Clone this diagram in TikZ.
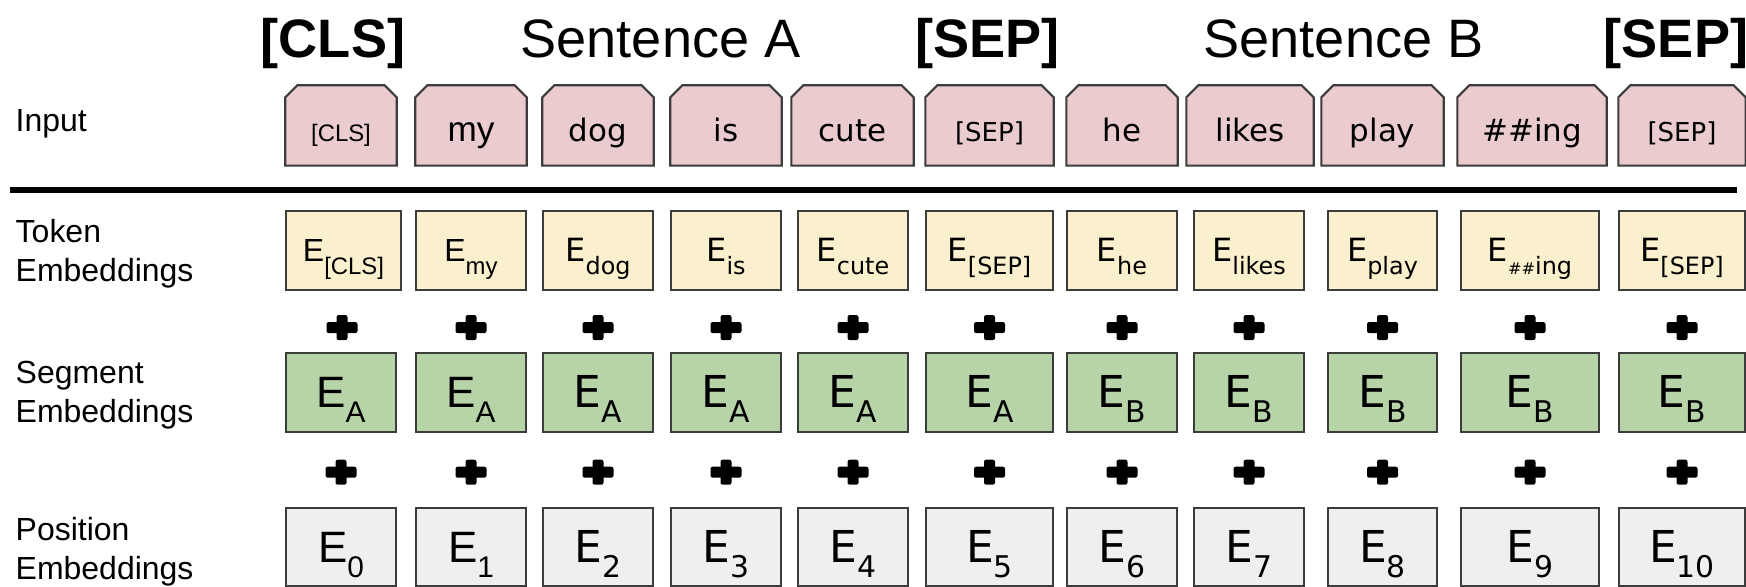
\documentclass[tikz,border=0pt]{standalone}
\usepackage{fontspec}
\setmainfont{Liberation Sans}
\newfontfamily\dejavu{DejaVu Sans}
\usetikzlibrary{calc,backgrounds}

\definecolor{inpink}{RGB}{234,203,206}
\definecolor{tokyellow}{RGB}{250,240,205}
\definecolor{seggreen}{RGB}{183,211,168}
\definecolor{posgray}{RGB}{239,239,239}
\definecolor{edgegray}{RGB}{60,60,60}

% lowered subscripts for the token row and the two lower rows
\newcommand\tsub[1]{\raisebox{-0.13cm}{\fontsize{6.8}{8}\selectfont #1}}
\newcommand\ssub[1]{\raisebox{-0.15cm}{\fontsize{8.5}{10}\selectfont #1}}

\tikzset{
  emb/.style={rectangle, draw=edgegray, line width=0.6pt, inner sep=0pt},
  inbox/.style={inner sep=0pt, minimum height=0.79cm, text height=0.41cm, text depth=0.08cm,
    font=\dejavu\fontsize{8.8}{10}\selectfont},
  tokbox/.style={emb, fill=tokyellow, minimum height=0.79cm, text height=0.32cm, text depth=0.096cm,
    font=\fontsize{9.1}{11}\selectfont},
  segbox/.style={emb, fill=seggreen, minimum height=0.79cm, text height=0.4cm, text depth=0.09cm,
    font=\fontsize{12.5}{15}\selectfont},
  posbox/.style={emb, fill=posgray, minimum height=0.78cm, text height=0.4cm, text depth=0.09cm,
    font=\fontsize{12.5}{15}\selectfont},
  % base of a two-line label is its last line
  rowlabel/.style={anchor=base west, align=left, inner sep=0pt, font=\fontsize{9.1}{11.1}\selectfont},
  headline/.style={anchor=base, inner sep=0pt, font=\fontsize{15.4}{18}\selectfont},
  plussign/.pic={
    \fill[rounded corners=0.6pt] (-0.155,-0.055) rectangle (0.155,0.055);
    \fill[rounded corners=0.6pt] (-0.055,-0.125) rectangle (0.055,0.125);
  }
}

\begin{document}
\begin{tikzpicture}
  \useasboundingbox (0,0) rectangle (17.46,-5.87);

  % headings over the sequence
  \node[headline, font=\fontsize{15.4}{18}\selectfont\bfseries] (hcls) at (3.33,-0.58) {[CLS]};
  \node[headline] (hsa) at (6.605,-0.58) {Sentence A};
  \node[headline, font=\fontsize{15.4}{18}\selectfont\bfseries] (hsep) at (9.875,-0.58) {[SEP]};
  \node[headline] (hsb) at (13.435,-0.58) {Sentence B};
  \node[headline, font=\fontsize{15.4}{18}\selectfont\bfseries] (hsepb) at (16.76,-0.58) {[SEP]};

  % row labels
  \node[rowlabel] (lin) at (0.15,-1.32) {Input};
  \node[rowlabel] (ltok) at (0.15,-2.817) {Token\\Embeddings};
  \node[rowlabel] (lseg) at (0.15,-4.23) {Segment\\Embeddings};
  \node[rowlabel] (lpos) at (0.15,-5.80) {Position\\Embeddings};

  % input tokens
  \foreach \x/\w/\txt [count=\i from 0] in {
      3.41/1.10/{\rmfamily\fontsize{6.8}{8}\selectfont [CLS]},
      4.71/1.10/{\rmfamily\fontsize{10}{12}\selectfont my},
      5.98/1.10/dog, 7.26/1.10/is, 8.525/1.21/cute,
      9.895/1.27/{\fontsize{7.4}{9}\selectfont [SEP]},
      11.22/1.10/he, 12.50/1.26/likes, 13.825/1.21/play, 15.32/1.48/\#\#ing,
      16.82/1.26/{\fontsize{7.4}{9}\selectfont [SEP]}}
    \node[inbox, minimum width=\w cm] (in\i) at (\x,-1.255) {\txt};

  \begin{scope}[on background layer]
    \fill[white] (0,0) rectangle (17.46,-5.87);
    \foreach \i in {0,...,10}
      \filldraw[fill=inpink, draw=edgegray, line width=0.6pt]
        (in\i.south west) -- ([yshift=-0.12cm]in\i.north west) -- ([xshift=0.12cm]in\i.north west)
        -- ([xshift=-0.12cm]in\i.north east) -- ([yshift=-0.12cm]in\i.north east)
        -- (in\i.south east) -- cycle;
  \end{scope}

  \draw[line width=1.7pt] (0.10,-1.90) -- (17.37,-1.90);

  % token embeddings
  \foreach \x/\w/\fnt/\txt [count=\i from 0] in {
      3.435/1.15/\rmfamily/[CLS], 4.71/1.10/\rmfamily/my,
      5.98/1.10/\dejavu/dog, 7.26/1.10/\dejavu/is, 8.53/1.10/\dejavu/cute,
      9.895/1.27/\dejavu/[SEP], 11.22/1.10/\dejavu/he, 12.49/1.10/\dejavu/likes,
      13.825/1.09/\dejavu/play,
      15.30/1.38/\dejavu/{{\fontsize{4.6}{5}\selectfont\#\#}ing},
      16.82/1.26/\dejavu/[SEP]}
    \node[tokbox, minimum width=\w cm] (tok\i) at (\x,-2.505) {\fnt E\tsub{\txt}};

  % segment and position embeddings
  \foreach \x/\w/\fnt/\seg [count=\i from 0] in {
      3.41/1.10/\rmfamily/A, 4.71/1.10/\rmfamily/A,
      5.98/1.10/\dejavu/A, 7.26/1.10/\dejavu/A, 8.53/1.10/\dejavu/A,
      9.895/1.27/\dejavu/A, 11.22/1.10/\dejavu/B, 12.49/1.10/\dejavu/B,
      13.825/1.09/\dejavu/B, 15.30/1.38/\dejavu/B, 16.82/1.26/\dejavu/B}
  {
    \node[segbox, minimum width=\w cm] (seg\i) at (\x,-3.925) {\fnt E\ssub{\seg}};
    \node[posbox, minimum width=\w cm] (pos\i) at (\x,-5.47) {\fnt E\ssub{\i}};
    \pic at ($(tok\i.south)!0.6!(seg\i.north)$) {plussign};
    \pic at ($(seg\i.south)!0.53!(pos\i.north)$) {plussign};
  }
\end{tikzpicture}
\end{document}
